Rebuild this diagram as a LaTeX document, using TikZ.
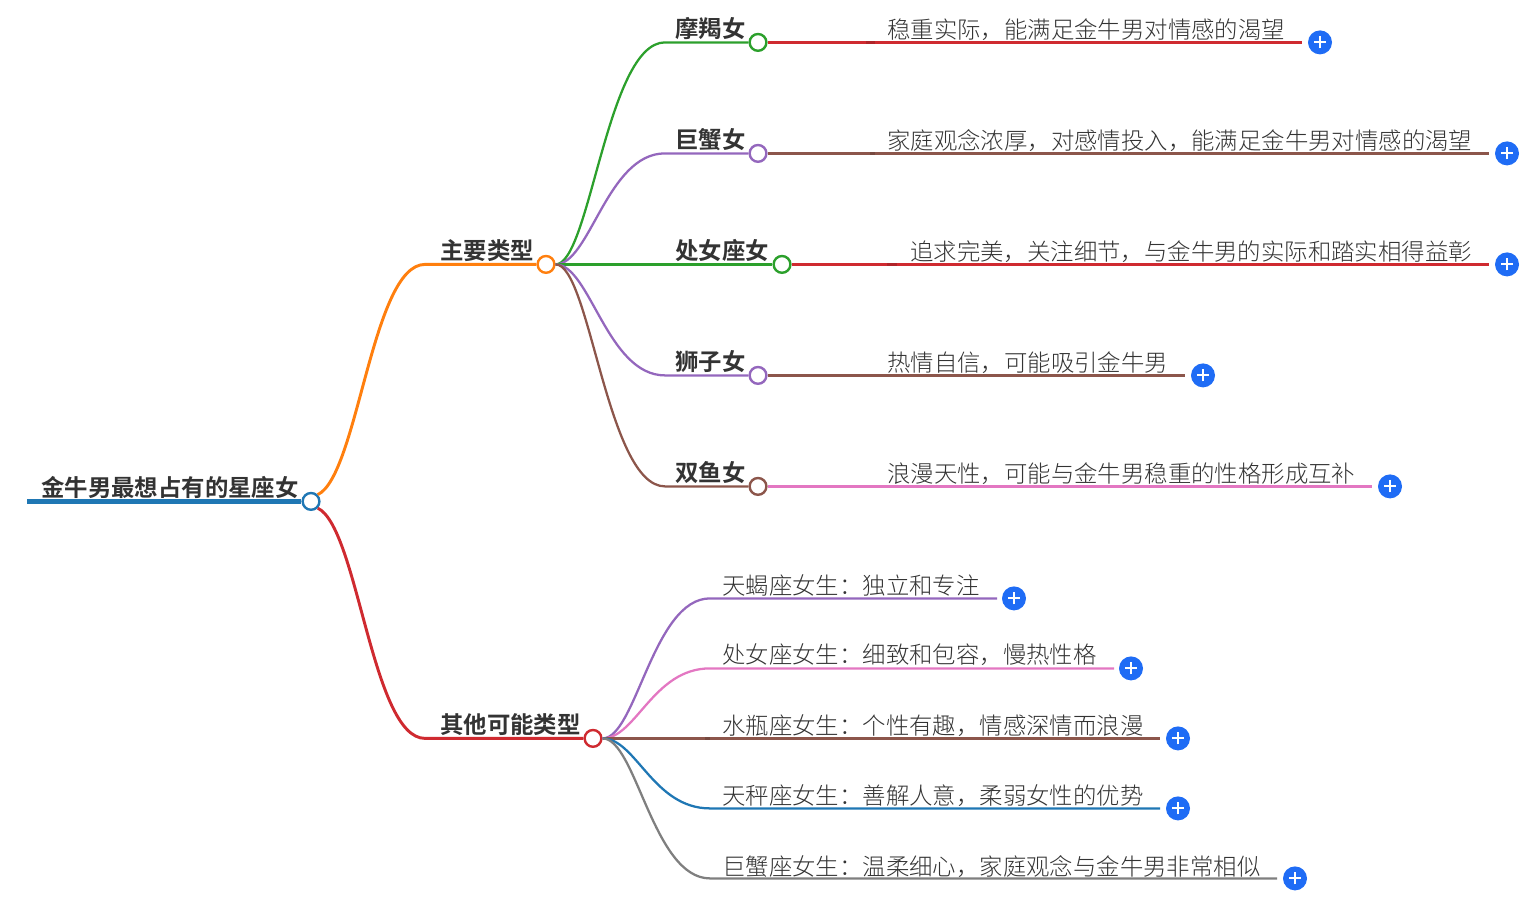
\documentclass[tikz,border=0pt]{standalone}
\usepackage{fontspec}
\usetikzlibrary{calc}
\setmainfont{Noto Sans CJK SC}
\newfontfamily\lightcjk{Noto Sans CJK SC Light}
\newfontfamily\boldcjk{Noto Sans CJK SC Bold}
\definecolor{cblue}{HTML}{1F77B4}
\definecolor{corange}{HTML}{FF7F0E}
\definecolor{cgreen}{HTML}{2CA02C}
\definecolor{cred}{HTML}{CF2A30}
\definecolor{cpurple}{HTML}{9467BD}
\definecolor{cbrown}{HTML}{8C564B}
\definecolor{cpink}{HTML}{E377C2}
\definecolor{cgray}{HTML}{7F7F7F}
\definecolor{btn}{HTML}{1F6CF5}
\definecolor{tdark}{HTML}{333333}
\tikzset{
  dot/.style={circle,draw=#1,line width=1.8pt,fill=white,minimum size=12.6pt,inner sep=0pt},
  btitle/.style={anchor=west,inner sep=0pt,yshift=0.5pt,text=tdark,font=\fontsize{17.55pt}{20pt}\boldcjk},
  ltext/.style={anchor=west,inner sep=0pt,yshift=-0.5pt,text=tdark,font=\fontsize{17.55pt}{20pt}\lightcjk},
  plusbtn/.style={circle,fill=btn,minimum size=18pt,inner sep=0pt},
  edge/.style={line width=1.7pt,draw=#1},
  trunk/.style={line width=2.2pt,draw=#1},
}
\newcommand{\plusmark}[1]{\draw[white,line width=1.5pt] ([xshift=-4.5pt]#1.center)--([xshift=4.5pt]#1.center) ([yshift=-4.5pt]#1.center)--([yshift=4.5pt]#1.center);}
\begin{document}
\begin{tikzpicture}[x=0.75pt,y=-0.75pt]
\useasboundingbox (0,-0.4) rectangle (1540,897.6);
% nodes
\node[dot=cblue]   (root) at (311,501) {};
\node[dot=corange] (main) at (546,264) {};
\node[dot=cred]    (other) at (593,738) {};
\node[dot=cgreen]  (mj) at (758,42) {};
\node[dot=cpurple] (jx) at (758,153) {};
\node[dot=cgreen]  (cn) at (782,264) {};
\node[dot=cpurple] (sz) at (758,375) {};
\node[dot=cbrown]  (sy) at (758,486) {};
\coordinate (rootstart) at (27,501);
\draw[line width=4pt,cblue] (rootstart) -- (root.west);
% level 1
\coordinate (mainb) at (425,264);
\coordinate (otherb) at (425,738);
\draw[trunk=corange] (root.north east) .. controls (358,475) and (372,264) .. (mainb) -- (main.west);
\draw[trunk=cred] (root.south east) .. controls (358,527) and (372,738) .. (otherb) -- (other.west);
% level 2
\foreach \n/\c/\y in {mj/cgreen/42,jx/cpurple/153,cn/cgreen/264,sz/cpurple/375,sy/cbrown/486}{
  \coordinate (\n b) at (665,\y);
  \draw[edge=\c] (main.east) .. controls (590,264) and (607,\y) .. (\n b) -- (\n.west);
}
% leaf lines and buttons
\foreach \n/\e/\c/\bx/\y in {mj/1302/cred/1320/42,jx/1489/cbrown/1507/153,cn/1489/cred/1507/264,sz/1185/cbrown/1203/375,sy/1372/cpink/1390/486}{
  \node[plusbtn] (\n p) at (\bx,\y) {};
  \coordinate (\n e) at (\e,\y);
  \draw[edge=\c] (\n.east) -- (\n e);
  \plusmark{\n p}
}
% other children
\foreach \n/\y/\e/\c/\bx in {a/598/997/cpurple/1014,b/668/1114/cpink/1131,c/738/1160/cbrown/1178,d/808/1160/cblue/1178,f/878/1277/cgray/1295}{
  \coordinate (o\n b) at (710,\y);
  \coordinate (o\n e) at (\e,\y);
  \node[plusbtn] (o\n p) at (\bx,\y) {};
  \draw[edge=\c] (other.east) .. controls (636,738) and (653,\y) .. (o\n b) -- (o\n e);
  \plusmark{o\n p}
}
% small overlaps where line segments join
\foreach \xa/\xb/\y/\c in {866/875/42/cred,870/875/153/cbrown,887/897/264/cred,705/710/738/cbrown}{
  \draw[line width=2.2pt,\c!85!black] (\xa,\y) -- (\xb,\y);
}
% texts
\node[btitle] (troot) at (41,488) {金牛男最想占有的星座女};
\node[btitle] (tmain) at (440,251) {主要类型};
\node[btitle] (tother) at (440,725) {其他可能类型};
\node[btitle] (tmj) at (675,29) {摩羯女};
\node[btitle] (tjx) at (675,140) {巨蟹女};
\node[btitle] (tcn) at (675,251) {处女座女};
\node[btitle] (tsz) at (675,362) {狮子女};
\node[btitle] (tsy) at (675,473) {双鱼女};
\node[ltext] (l1) at (887,29) {稳重实际，能满足金牛男对情感的渴望};
\node[ltext] (l2) at (887,140) {家庭观念浓厚，对感情投入，能满足金牛男对情感的渴望};
\node[ltext] (l3) at (910,251) {追求完美，关注细节，与金牛男的实际和踏实相得益彰};
\node[ltext] (l4) at (887,362) {热情自信，可能吸引金牛男};
\node[ltext] (l5) at (887,473) {浪漫天性，可能与金牛男稳重的性格形成互补};
\node[ltext] (o1) at (722,584) {天蝎座女生：独立和专注};
\node[ltext] (o2) at (722,654) {处女座女生：细致和包容，慢热性格};
\node[ltext] (o3) at (722,725) {水瓶座女生：个性有趣，情感深情而浪漫};
\node[ltext] (o4) at (722,795) {天秤座女生：善解人意，柔弱女性的优势};
\node[ltext] (o5) at (722,865) {巨蟹座女生：温柔细心，家庭观念与金牛男非常相似};
\end{tikzpicture}
\end{document}
